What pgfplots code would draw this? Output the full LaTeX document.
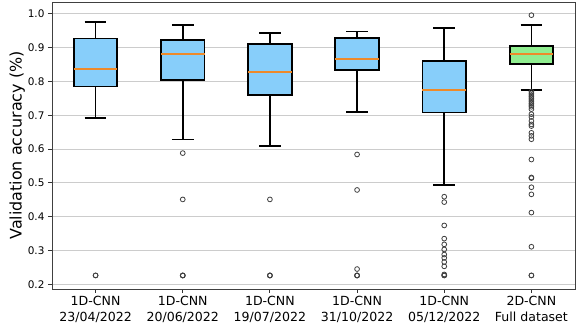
\documentclass[border=0pt]{standalone}
\usepackage{fontspec}
\setmainfont{DejaVu Sans}
\usepackage{pgfplots}
\usepgfplotslibrary{statistics}
\pgfplotsset{compat=1.18}
\definecolor{skyb}{HTML}{87CEFA}
\definecolor{lgreen}{HTML}{90EE90}
\definecolor{medc}{HTML}{EE8A2A}
\begin{document}
\begin{tikzpicture}
\begin{axis}[
  scale only axis, width=523bp, height=287bp,
  xmin=0.5, xmax=6.5, ymin=0.186, ymax=1.035,
  xtick={1,2,3,4,5,6},
  xticklabels={{1D-CNN\\23/04/2022},{1D-CNN\\20/06/2022},{1D-CNN\\19/07/2022},{1D-CNN\\31/10/2022},{1D-CNN\\05/12/2022},{2D-CNN\\Full dataset}},
  xticklabel style={align=center, font=\fontsize{12.6}{15.4}\selectfont},
  ytick={0.2,0.3,0.4,0.5,0.6,0.7,0.8,0.9,1.0},
  yticklabel style={font=\fontsize{10.5}{12}\selectfont, /pgf/number format/.cd, fixed, fixed zerofill, precision=1},
  /pgf/number format/assume math mode=true,
  ymajorgrids, grid style={black!20, line width=0.9bp},
  tick align=outside, major tick length=4bp, tick style={black!80, line width=0.9bp},
  xtick pos=bottom, ytick pos=left,
  axis line style={black!75, line width=0.9bp},
  ylabel={Validation accuracy (\%)}, ylabel style={font=\fontsize{16}{19}\selectfont},
  ylabel shift=-4bp,
  boxplot/draw direction=y,
  boxplot/box extend=0.5, boxplot/whisker extend=0.25,
  boxplot/every median/.style={draw=medc, line width=2bp},
  boxplot/every whisker/.style={draw=black, line width=1.8bp},
  mark=o, mark size=2.4bp, mark options={draw=black!75, fill=none, line width=0.8bp},
]
\addplot[boxplot prepared={lower whisker=0.693, lower quartile=0.785, median=0.837, upper quartile=0.927, upper whisker=0.977, draw position=1},
  boxplot/every box/.style={draw=black, fill=skyb, line width=1.8bp}, mark=o]
  coordinates {(0,0.226) (0,0.2262)};
\addplot[boxplot prepared={lower whisker=0.628, lower quartile=0.804, median=0.882, upper quartile=0.923, upper whisker=0.968, draw position=2},
  boxplot/every box/.style={draw=black, fill=skyb, line width=1.8bp}, mark=o]
  coordinates {(0,0.588) (0,0.451) (0,0.226) (0,0.2262) (0,0.2258)};
\addplot[boxplot prepared={lower whisker=0.608, lower quartile=0.760, median=0.829, upper quartile=0.910, upper whisker=0.943, draw position=3},
  boxplot/every box/.style={draw=black, fill=skyb, line width=1.8bp}, mark=o]
  coordinates {(0,0.451) (0,0.226) (0,0.2262) (0,0.2258)};
\addplot[boxplot prepared={lower whisker=0.710, lower quartile=0.833, median=0.866, upper quartile=0.928, upper whisker=0.948, draw position=4},
  boxplot/every box/.style={draw=black, fill=skyb, line width=1.8bp}, mark=o]
  coordinates {(0,0.584) (0,0.479) (0,0.245) (0,0.226) (0,0.2262) (0,0.2258)};
\addplot[boxplot prepared={lower whisker=0.494, lower quartile=0.708, median=0.775, upper quartile=0.861, upper whisker=0.959, draw position=5},
  boxplot/every box/.style={draw=black, fill=skyb, line width=1.8bp}, mark=o]
  coordinates {(0,0.459) (0,0.443) (0,0.374) (0,0.335) (0,0.318) (0,0.303) (0,0.288) (0,0.278) (0,0.266) (0,0.253) (0,0.229) (0,0.226) (0,0.2262)};
\addplot[boxplot prepared={lower whisker=0.775, lower quartile=0.852, median=0.881, upper quartile=0.905, upper whisker=0.968, draw position=6},
  boxplot/every box/.style={draw=black, fill=lgreen, line width=1.8bp}, mark=o]
  coordinates {(0,0.996) (0,0.770) (0,0.765) (0,0.760) (0,0.755) (0,0.750) (0,0.745) (0,0.740) (0,0.735) (0,0.730) (0,0.725) (0,0.718) (0,0.703) (0,0.695) (0,0.683) (0,0.673) (0,0.668) (0,0.648) (0,0.639) (0,0.629) (0,0.569) (0,0.516) (0,0.514) (0,0.487) (0,0.466) (0,0.412) (0,0.311) (0,0.226) (0,0.2262)};
\end{axis}
\path (0,0) ++(-52bp,-31bp) (0,0) ++(525bp,289bp);
\end{tikzpicture}
\end{document}
